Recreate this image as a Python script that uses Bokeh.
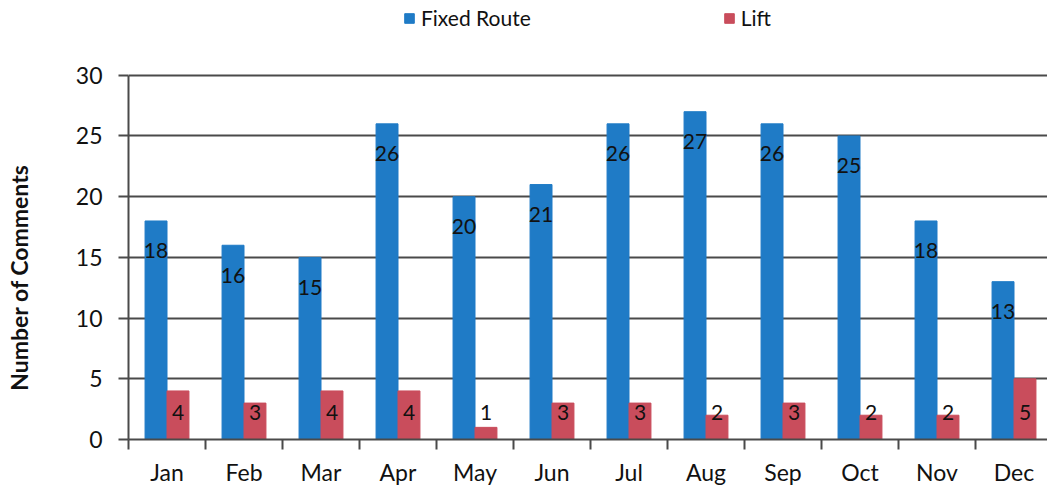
from bokeh.plotting import figure
from bokeh.models import (ColumnDataSource, Range1d, FixedTicker, Legend, LegendItem)
from bokeh.core.properties import value
from bokeh.embed import file_html
from bokeh.resources import INLINE

months = ["Jan", "Feb", "Mar", "Apr", "May", "Jun", "Jul", "Aug", "Sep", "Oct", "Nov", "Dec"]
fixed_route = [18, 16, 15, 26, 20, 21, 26, 27, 26, 25, 18, 13]
lift = [4, 3, 4, 4, 1, 3, 3, 2, 3, 2, 2, 5]
y_ticks = [0, 5, 10, 15, 20, 25, 30]
y_title = "Number of Comments"

BLUE = "#1f7bc6"
RED = "#c94d5c"
GRID = "#4a4a4a"
FONT = "Lato"

idx = list(range(len(months)))
bar_w = 0.285
src = ColumnDataSource(dict(
    xb=[i + 0.5 - bar_w / 2 for i in idx],
    xr=[i + 0.5 + bar_w / 2 for i in idx],
    fr=fixed_route,
    lf=lift,
    frl=[str(v) for v in fixed_route],
    lfl=[str(v) for v in lift],
    zero=[0] * len(months),
))

# frame extends above the 30 line to make room for the legend
p = figure(width=1047, height=488, output_backend="svg", toolbar_location=None,
           x_range=Range1d(0, 11.935), y_range=Range1d(0, 36.16),
           min_border_left=128, min_border_right=0, min_border_top=0,
           min_border_bottom=48, outline_line_color=None)

rb = p.vbar(x="xb", top="fr", width=bar_w, source=src, fill_color=BLUE, line_color=BLUE)
rr = p.vbar(x="xr", top="lf", width=bar_w, source=src, fill_color=RED, line_color=RED)

p.text(x="xb", y="fr", text="frl", source=src, text_align="center", text_baseline="middle",
       y_offset=30, text_font=value(FONT), text_font_size="21px", text_color="#111111")
p.text(x="xr", y="zero", text="lfl", source=src, text_align="center", text_baseline="middle",
       y_offset=-27, text_font=value(FONT), text_font_size="21px", text_color="#111111")

# grid
p.xgrid.grid_line_color = None
p.ygrid.ticker = FixedTicker(ticks=y_ticks)
p.ygrid.grid_line_color = GRID
p.ygrid.grid_line_width = 2

# y axis
ya = p.yaxis[0]
ya.ticker = FixedTicker(ticks=y_ticks)
ya.bounds = (0, 30)
ya.axis_line_color = GRID
ya.axis_line_width = 2
ya.major_tick_line_color = GRID
ya.major_tick_line_width = 2
ya.major_tick_out = 10
ya.major_tick_in = 0
ya.minor_tick_line_color = None
ya.major_label_standoff = 16
ya.major_label_text_font = FONT
ya.major_label_text_font_size = "23px"
ya.major_label_text_color = "#111111"
# trailing em/en spaces shift the centred title down to the middle of the 0-30 span
ya.axis_label = y_title + "\u2003" * 6 + "\u2002"
ya.axis_label_text_font = FONT
ya.axis_label_text_font_style = "bold"
ya.axis_label_text_font_size = "23px"
ya.axis_label_text_color = "#111111"
ya.axis_label_standoff = 40

# x axis
xa = p.xaxis[0]
xa.ticker = FixedTicker(ticks=[i + 0.5 for i in idx], minor_ticks=list(range(len(months) + 1)))
xa.major_label_overrides = {i + 0.5: m for i, m in zip(idx, months)}
xa.axis_line_color = GRID
xa.axis_line_width = 2
xa.major_tick_line_color = None
xa.major_tick_out = 10
xa.major_tick_in = 0
xa.minor_tick_line_color = GRID
xa.minor_tick_line_width = 2
xa.minor_tick_out = 10
xa.minor_tick_in = 0
xa.major_label_standoff = 8
xa.major_label_text_font = FONT
xa.major_label_text_font_size = "23px"
xa.major_label_text_color = "#111111"

legend = Legend(items=[LegendItem(label="Fixed Route", renderers=[rb]),
                       LegendItem(label="Lift", renderers=[rr])],
                orientation="horizontal", location=(275, 409), spacing=192,
                glyph_width=12, glyph_height=12, label_text_font=FONT,
                label_text_font_size="21px", label_text_color="#111111",
                border_line_color=None, background_fill_alpha=0,
                label_standoff=6, padding=4, margin=0)
p.add_layout(legend, "center")

open("out.html", "w").write(file_html(p, INLINE))
